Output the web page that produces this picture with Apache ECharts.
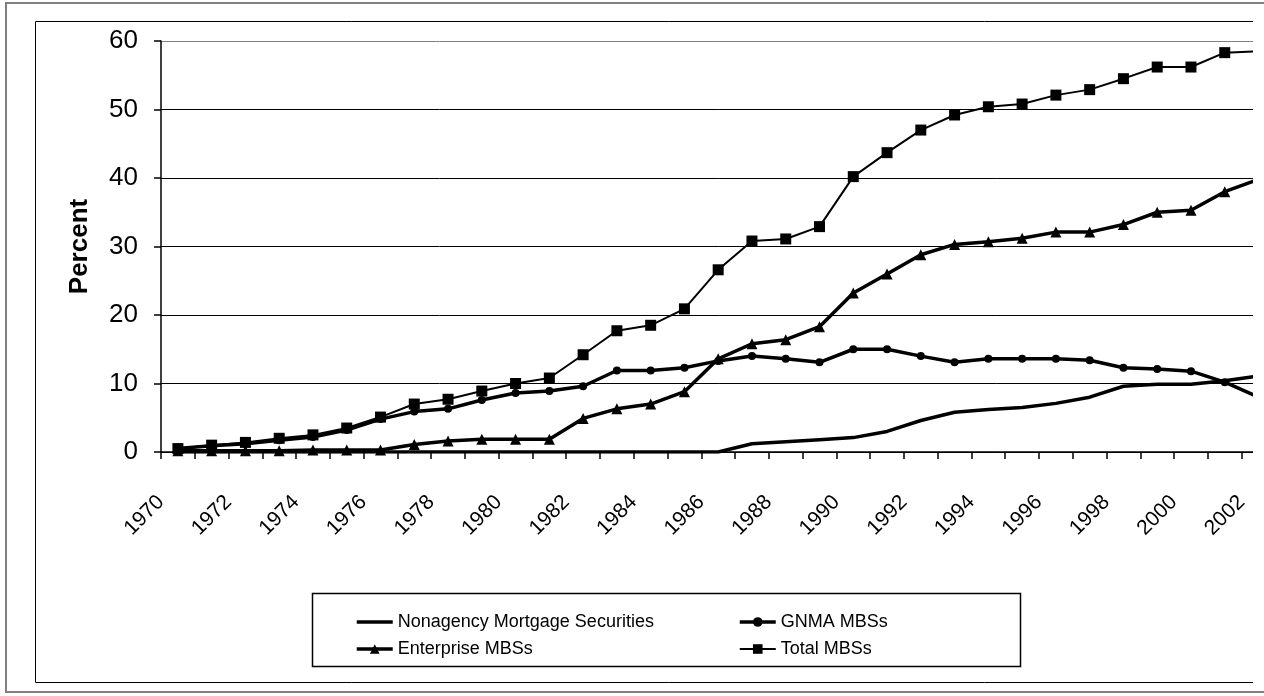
<!DOCTYPE html>
<html>
<head>
<meta charset="utf-8">
<script src="https://cdn.jsdelivr.net/npm/echarts@6/dist/echarts.min.js"></script>
<style>
  html, body { margin: 0; padding: 0; background: #fff; overflow: hidden; }
  #wrap { position: absolute; left: 0; top: 0; width: 1253px; height: 696px; overflow: hidden; }
  #chart { position: absolute; left: 0; top: 0; width: 1300px; height: 696px; }
  #outer { position: absolute; left: 5px; top: 2px; width: 1280px; height: 687px; border: 2px solid #808080; border-right: none; pointer-events: none; }
</style>
</head>
<body>
<div id="wrap"><div id="chart"></div></div>
<div id="outer"></div>
<script>
const years = ['1970','1971','1972','1973','1974','1975','1976','1977','1978','1979','1980','1981','1982','1983','1984','1985','1986','1987','1988','1989','1990','1991','1992','1993','1994','1995','1996','1997','1998','1999','2000','2001','2002'];
const nonagency = [0,0,0,0,0,0,0,0,0,0,0,0,0,0,0,0,0,1.2,1.5,1.8,2.1,3.0,4.6,5.8,6.2,6.5,7.1,8.0,9.6,9.9,9.9,10.4,11.1];
const gnma = [0.5,0.9,1.2,1.7,2.2,3.2,4.8,5.9,6.3,7.6,8.6,8.9,9.6,11.9,11.9,12.3,13.3,14.0,13.6,13.1,15.0,15.0,14.0,13.1,13.6,13.6,13.6,13.4,12.3,12.1,11.8,10.2,8.0];
const enterprise = [0.2,0.2,0.2,0.2,0.3,0.3,0.3,1.1,1.6,1.85,1.85,1.85,4.9,6.3,7.0,8.8,13.6,15.8,16.4,18.3,23.2,26.0,28.8,30.3,30.7,31.2,32.1,32.1,33.2,35.0,35.3,38.0,39.8];
const total = [0.5,1.0,1.4,2.0,2.5,3.5,5.1,7.0,7.7,8.9,10.0,10.8,14.2,17.7,18.5,20.9,26.6,30.8,31.1,32.9,40.2,43.7,47.0,49.2,50.4,50.8,52.1,52.9,54.5,56.2,56.2,58.3,58.5];

const FONT = "'Liberation Sans', Arial, sans-serif";
const legendText = { fontFamily: FONT, fontSize: 18, lineHeight: 18, color: '#000' };
const chart = echarts.init(document.getElementById('chart'), null, { renderer: 'canvas' });
chart.setOption({
  animation: false,
  backgroundColor: '#fff',
  textStyle: { fontFamily: FONT, color: '#000' },
  grid: { left: 161, top: 41, height: 411, width: 1114.4 },
  graphic: [
    { type: 'rect', left: 33, top: 19, shape: { width: 1300, height: 661 }, style: { fill: 'none', stroke: '#000', lineWidth: 1 }, z: -1 },
    { type: 'rect', left: 310, top: 591, shape: { width: 708, height: 73 }, style: { fill: 'none', stroke: '#000', lineWidth: 1.5 }, z: -1 }
  ],
  legend: [
    { data: [{ name: 'Nonagency Mortgage Securities', icon: 'path://M0,0H36V3.5H0Z' }, 'Enterprise MBSs'], symbolKeepAspect: true, orient: 'vertical', left: 350, top: 608, itemGap: 9, itemWidth: 36, itemHeight: 12, lineStyle: { width: 'inherit' }, textStyle: legendText, selectedMode: false },
    { data: ['GNMA MBSs', 'Total MBSs'], orient: 'vertical', left: 733, top: 608, itemGap: 9, itemWidth: 36, itemHeight: 12, lineStyle: { width: 'inherit' }, textStyle: legendText, selectedMode: false }
  ],
  xAxis: {
    type: 'category', data: years, boundaryGap: true,
    axisLine: { lineStyle: { color: '#000', width: 1.5 } },
    axisTick: { show: true, interval: 0, length: 7, lineStyle: { color: '#000', width: 1.5 } },
    axisLabel: { interval: 1, rotate: 45, fontSize: 21, color: '#000', fontFamily: FONT, margin: 30, padding: [0, 24, 0, 0] },
    splitLine: { show: false }
  },
  yAxis: {
    type: 'value', min: 0, max: 60, interval: 10,
    name: 'Percent', nameLocation: 'middle', nameRotate: 90, nameGap: 68,
    nameTextStyle: { fontFamily: FONT, fontSize: 26, fontWeight: 'bold', color: '#000' },
    axisLine: { show: true, lineStyle: { color: '#000', width: 1.5 } },
    axisTick: { show: true, length: 7, lineStyle: { color: '#000', width: 1.5 } },
    axisLabel: { fontSize: 26, color: '#000', fontFamily: FONT, margin: 23 },
    splitLine: { show: true, lineStyle: { color: ['#000','#000','#000','#000','#000','#000','#808080'], width: 1 } }
  },
  series: [
    { name: 'Nonagency Mortgage Securities', type: 'line', data: nonagency, symbol: 'none', color: '#000', lineStyle: { color: '#000', width: 3.5 }, z: 3 },
    { name: 'GNMA MBSs', type: 'line', data: gnma, symbol: 'circle', symbolSize: 8, color: '#000', itemStyle: { color: '#000' }, lineStyle: { color: '#000', width: 3.5 }, z: 4 },
    { name: 'Enterprise MBSs', type: 'line', data: enterprise, symbol: 'triangle', symbolSize: 11, color: '#000', itemStyle: { color: '#000' }, lineStyle: { color: '#000', width: 3.5 }, z: 5 },
    { name: 'Total MBSs', type: 'line', data: total, symbol: 'rect', symbolSize: 11, color: '#000', itemStyle: { color: '#000' }, lineStyle: { color: '#000', width: 2 }, z: 6 }
  ]
});
</script>
</body>
</html>
